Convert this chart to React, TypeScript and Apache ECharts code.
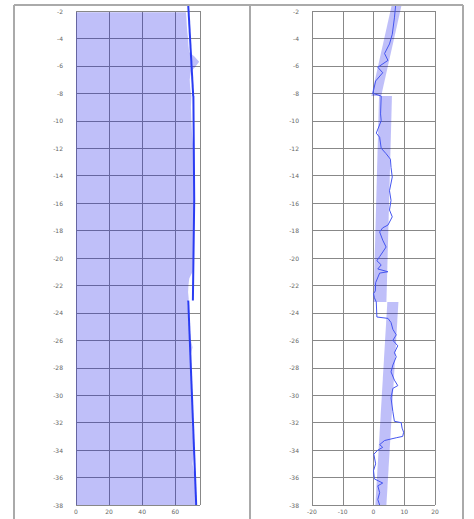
import React, { useEffect, useRef } from "react";
import * as echarts from "echarts";

// Left panel: measured profile (filled) and fitted trend segments
const fillDepths = [-2.1, -2.5, -3, -3.5, -4, -4.5, -5, -5.3, -5.7, -6.1, -6.4, -7, -7.5, -8, -8.2, -9, -10, -11, -12, -13, -14, -15, -16, -17, -18, -19, -20, -21, -21.5, -22, -22.5, -23, -23.2, -24, -25, -26, -26.5, -27, -28, -29, -30, -31, -32, -33, -34, -35, -36, -37, -38];
const fillValues = [66.5, 66.8, 67, 67.3, 67.8, 68, 68.5, 71.5, 74.5, 72, 69.5, 68.8, 69, 69.5, 69.8, 69.5, 69.8, 70.2, 71, 71.2, 71.3, 71.2, 71.3, 71.2, 71.2, 71, 70.8, 70.5, 68.5, 68, 67.8, 68.2, 67.5, 67.8, 68.5, 69.5, 70.5, 69.5, 69.6, 70, 70.4, 70.6, 70, 70.8, 71.3, 70.5, 71.8, 72.2, 72.6];

const trend1Depths = [-1.6, -8.2];
const trend1Values = [67.9, 70.9];
const trend2Depths = [-8.2, -15.8, -23.1];
const trend2Values = [71.0, 71.5, 70.7];
const trend3Depths = [-23.1, -38];
const trend3Values = [67.9, 72.7];

// Right panel: band segments and residual line
const bandDepthTop = [-1.6, -8.2, -23.2];
const bandDepthBottom = [-8.2, -23.2, -38];
const bandCenterTop = [7.5, 3.9, 6.3];
const bandCenterBottom = [0.9, 2.1, 2.4];
const bandHalfWidth = [1.6, 2.1, 1.8];

const resDepths = [-1.6, -2.5, -3.7, -4.4, -5.1, -5.6, -6.1, -6.5, -7.1, -8.0, -8.2, -9.5, -10.0, -10.9, -11.2, -12.0, -12.4, -12.8, -13.4, -14.1, -15.1, -15.8, -16.5, -17.0, -17.6, -17.8, -18.1, -18.7, -19.2, -19.9, -20.2, -20.5, -20.8, -21.0, -21.1, -21.8, -22.4, -22.6, -22.9, -23.2, -24.3, -24.4, -24.7, -25.2, -25.6, -26.0, -26.4, -26.9, -27.2, -27.8, -28.3, -28.9, -29.3, -29.5, -30.2, -31.2, -31.9, -32.0, -32.4, -32.7, -33.0, -33.1, -33.3, -33.6, -33.8, -34.0, -34.3, -35.0, -35.5, -36.1, -36.4, -36.6, -37.1, -37.6, -38.0];
const resValues = [7.2, 6.8, 6.1, 5.2, 3.6, 4.7, 1.4, 3.0, 0.7, -0.2, 2.5, 2.3, 2.5, 0.9, 2.0, 2.5, 4.1, 5.5, 5.7, 6.1, 5.2, 5.7, 5.2, 6.1, 4.7, 3.0, 2.0, 3.0, 4.1, 2.0, 1.1, 2.5, 1.4, 4.7, 2.0, 0.7, 0.6, 0.0, 0.3, 0.9, 1.1, 4.7, 5.7, 6.3, 7.4, 6.3, 7.9, 6.8, 7.4, 6.3, 5.7, 6.8, 7.9, 6.3, 5.7, 6.3, 6.8, 9.0, 9.3, 9.8, 9.5, 7.4, 3.6, 2.0, 3.0, 1.4, 0.1, 0.7, 0.0, 0.3, 3.0, 1.4, 2.0, 1.4, 2.0];

const FILL = "rgba(0,0,230,0.25)";
const GRID = "#888";
const LABEL = { fontSize: 6, color: "#666", fontFamily: "DejaVu Sans" };

export default function App() {
  const ref = useRef<HTMLDivElement>(null);
  useEffect(() => {
    document.body.style.margin = "0";
    const chart = echarts.init(ref.current!, null, { renderer: "svg" });
    const yAxisBase = {
      type: "value",
      min: -38,
      max: -2,
      interval: 2,
      axisLine: { show: false },
      axisTick: { show: false },
      axisLabel: { ...LABEL, margin: 13 },
      splitLine: { show: true, lineStyle: { color: GRID, width: 1 } },
    };
    const xAxisBase = {
      type: "value",
      axisLine: { show: false },
      axisTick: { show: false },
      splitLine: { show: true, lineStyle: { color: GRID, width: 1 } },
    };
    const frame = (x1: number, y1: number, x2: number, y2: number) => ({
      type: "line",
      shape: { x1, y1, x2, y2 },
      style: { stroke: "#aaa", lineWidth: 2 },
      z: 100,
    });
    chart.setOption({
      animation: false,
      grid: [
        { left: 76, width: 124, top: 11, height: 494 },
        { left: 312, width: 123, top: 11, height: 494 },
      ],
      xAxis: [
        {
          ...xAxisBase,
          gridIndex: 0,
          min: 0,
          max: 75,
          interval: 20,
          axisLabel: { ...LABEL, margin: 3, showMaxLabel: false },
        },
        {
          ...xAxisBase,
          gridIndex: 1,
          min: -20,
          max: 20,
          interval: 10,
          axisLabel: { ...LABEL, margin: 3 },
        },
      ],
      yAxis: [
        { ...yAxisBase, gridIndex: 0 },
        { ...yAxisBase, gridIndex: 1 },
      ],
      graphic: [
        frame(14, 5, 463, 5),
        frame(14, 5, 14, 519),
        frame(250, 5, 250, 519),
        frame(463, 5, 463, 519),
      ],
      series: [
        {
          type: "custom",
          xAxisIndex: 0,
          yAxisIndex: 0,
          clip: false,
          data: [[fillValues[0], fillDepths[0]]],
          renderItem: (_params: any, api: any) => {
            const pts: number[][] = [];
            pts.push(api.coord([0, fillDepths[0]]));
            for (let i = 0; i < fillDepths.length; i++) {
              pts.push(api.coord([fillValues[i], fillDepths[i]]));
            }
            pts.push(api.coord([0, fillDepths[fillDepths.length - 1]]));
            return {
              type: "polygon",
              shape: { points: pts },
              style: { fill: FILL, stroke: "none" },
            };
          },
        },
        ...[
          [trend1Values, trend1Depths],
          [trend2Values, trend2Depths],
          [trend3Values, trend3Depths],
        ].map(([vals, deps]) => ({
          type: "line",
          xAxisIndex: 0,
          yAxisIndex: 0,
          clip: false,
          symbol: "none",
          data: vals.map((v, i) => [v, deps[i]]),
          lineStyle: { color: "#2a3cf2", width: 2 },
        })),
        {
          type: "custom",
          xAxisIndex: 1,
          yAxisIndex: 1,
          clip: false,
          data: bandDepthTop.map((d, i) => [bandCenterTop[i], d]),
          renderItem: (params: any, api: any) => {
            const i = params.dataIndex;
            const h = bandHalfWidth[i];
            const pts = [
              api.coord([bandCenterTop[i] - h, bandDepthTop[i]]),
              api.coord([bandCenterTop[i] + h, bandDepthTop[i]]),
              api.coord([bandCenterBottom[i] + h, bandDepthBottom[i]]),
              api.coord([bandCenterBottom[i] - h, bandDepthBottom[i]]),
            ];
            return {
              type: "polygon",
              shape: { points: pts },
              style: { fill: FILL, stroke: "none" },
            };
          },
        },
        {
          type: "line",
          xAxisIndex: 1,
          yAxisIndex: 1,
          clip: false,
          symbol: "none",
          data: resValues.map((v, i) => [v, resDepths[i]]),
          lineStyle: { color: "#4455f0", width: 1 },
        },
      ],
    });
    return () => chart.dispose();
  }, []);
  return <div ref={ref} style={{ width: 474, height: 519 }} />;
}
